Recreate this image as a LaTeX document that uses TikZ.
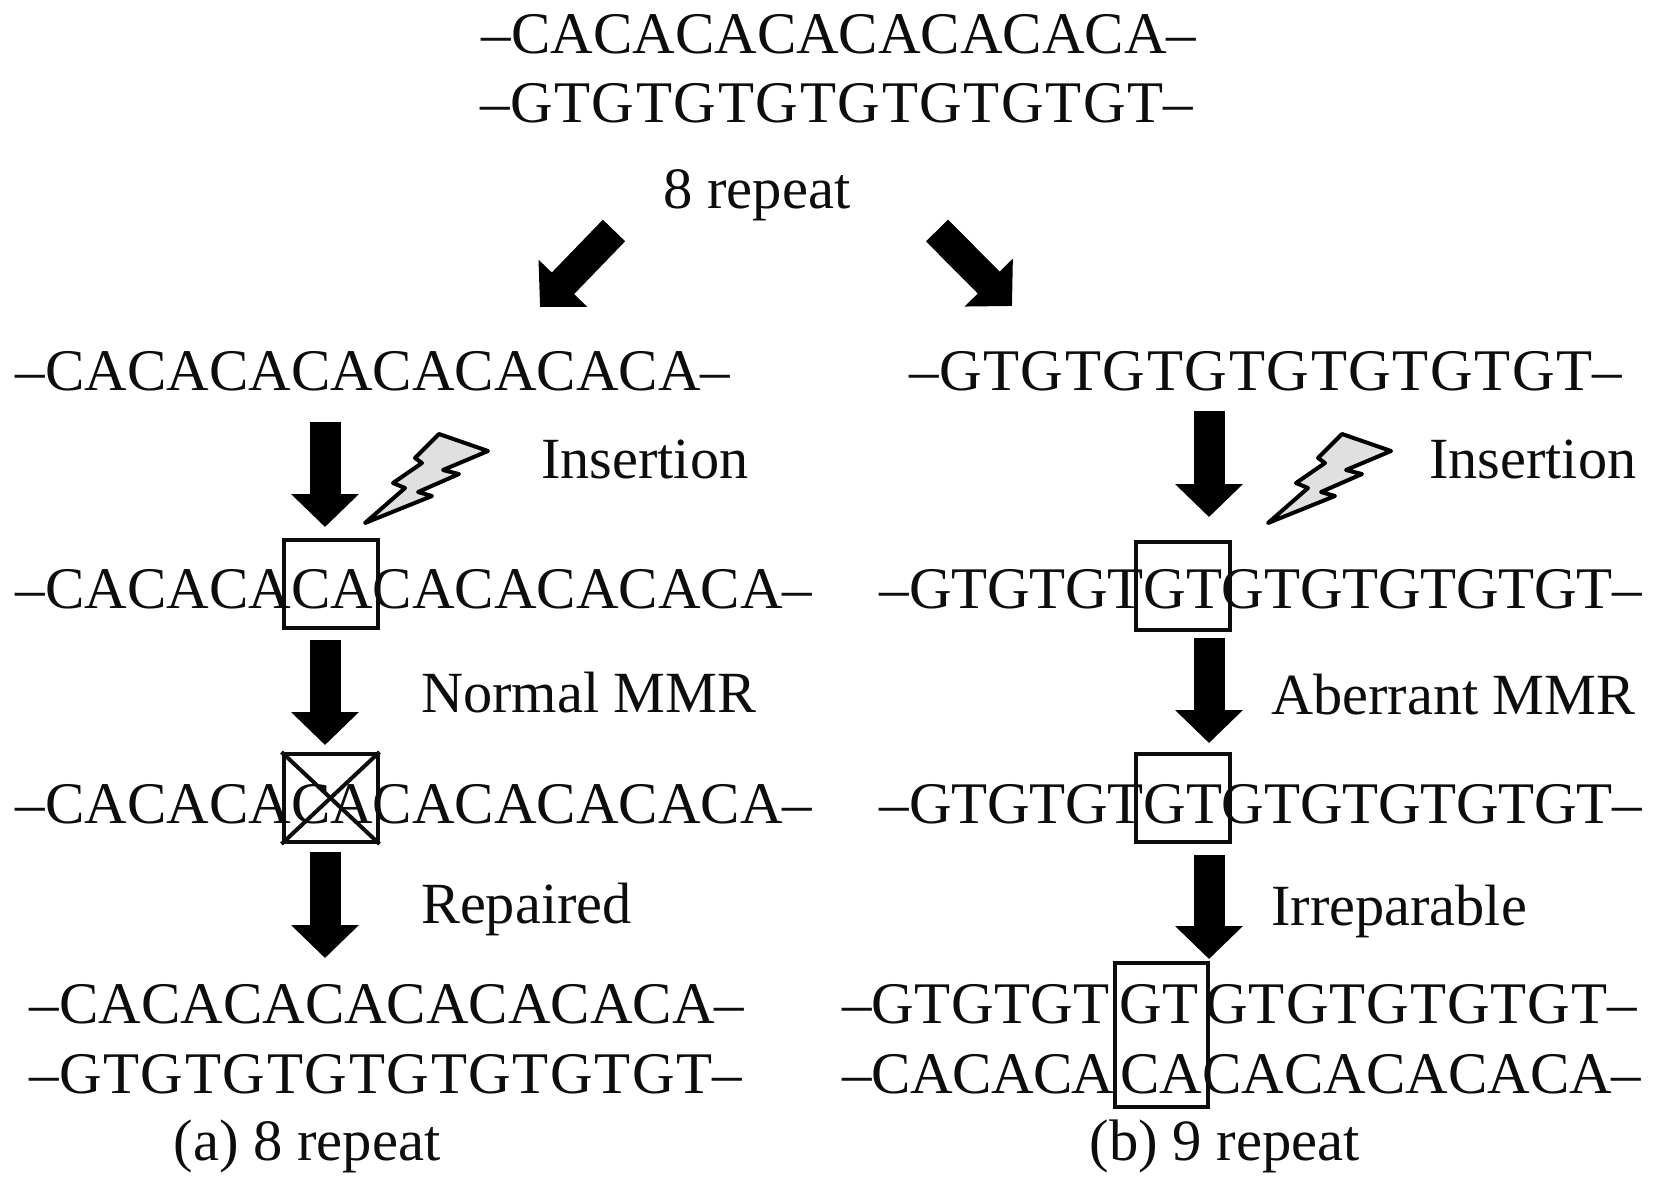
\documentclass[tikz,border=0pt]{standalone}
\usepackage{fontspec}
\setmainfont{Liberation Serif}
\usetikzlibrary{arrows.meta}
\newcommand\lspaced[2]{{\addfontfeature{LetterSpace=#1}#2}}
\tikzset{
  x=1pt,y=-1pt,
  seq/.style={anchor=base,inner sep=0pt,font=\fontsize{59}{59}\selectfont,text=black!95},
  seqw/.style={anchor=base west,inner sep=0pt,font=\fontsize{59}{59}\selectfont,text=black!95},
  lab/.style={anchor=base west,inner sep=0pt,font=\fontsize{58.3}{59}\selectfont,text=black!95},
  capt/.style={anchor=base,inner sep=0pt,font=\fontsize{58.6}{59}\selectfont,text=black!95},
  markbox/.style={draw=black!95,line width=4pt,fill=none,inner sep=0pt},
  blockarrow/.style={line width=31pt,black,-{Triangle[length=33pt,width=66pt]}},
  bolt/.style={draw=black,line width=4pt,fill=black!12,line join=round},
}
\begin{document}
\begin{tikzpicture}
\useasboundingbox (0,0) rectangle (1654,1187);
% top
\node[seq] (t1) at (839,53) {–CACACACACACACACA–};
\node[seq] (t2) at (837,122) {–\lspaced{2.8}{GTGTGTGTGTGTGTGT}–};
\node[capt] (rep) at (757,208) {8 repeat};
% left column
\node[seq] (l1) at (373,390) {–CACACACACACACACA–};
\node[seq] (l2) at (414,608) {–CACACACACACACACACA–};
\node[seq] (l3) at (414,823) {–CACACACACACACACACA–};
\node[seq] (l4) at (387,1023) {–CACACACACACACACA–};
\node[seq] (l5) at (386,1093) {–\lspaced{2.8}{GTGTGTGTGTGTGTGT}–};
\node[capt] (lc) at (307,1160) {(a) 8 repeat};
% right column
\node[seq] (r1) at (1266,390) {–\lspaced{2.8}{GTGTGTGTGTGTGTGT}–};
\node[seq] (r2) at (1261,608) {–\lspaced{-0.4}{GTGTGTGTGTGTGTGTGT}–};
\node[seq] (r3) at (1261,823) {–\lspaced{-0.4}{GTGTGTGTGTGTGTGTGT}–};
\node[seqw] (r4) at (842,1023) {–\lspaced{0.7}{GTGTGT}\hspace{10pt}GT\hspace{7pt}\lspaced{1.7}{GTGTGTGTGT}–};
\node[seqw] (r5) at (842,1093) {–\lspaced{-1.1}{CACACA}\hspace{6pt}CACACACACACA–};
\node[capt] (rc) at (1225,1160) {(b) 9 repeat};
% labels
\node[lab] (li) at (541,478) {Insertion};
\node[lab] (ln) at (421,712) {Normal MMR};
\node[lab] (lr) at (421,923) {Repaired};
\node[lab] (ri) at (1429,478) {Insertion};
\node[lab] (ra) at (1271,714) {Aberrant MMR};
\node[lab] (rr) at (1271,925) {Irreparable};
% boxes
\node[markbox,minimum width=94pt,minimum height=88pt] (b1) at (330.5,584) {};
\node[markbox,minimum width=94pt,minimum height=88pt] (b2) at (330.5,798) {};
\draw[line width=4pt,black!95] (b2.north west) -- (b2.south east) (b2.north east) -- (b2.south west);
\node[markbox,minimum width=94pt,minimum height=88pt] (b3) at (1183,586) {};
\node[markbox,minimum width=94pt,minimum height=88pt] (b4) at (1183,798) {};
\node[markbox,minimum width=93pt,minimum height=144pt] (b5) at (1161,1035) {};
% arrow ends
\coordinate (a0s) at (614,230.5); \coordinate (a0e) at (540,307);
\coordinate (a1s) at (937,230.5); \coordinate (a1e) at (1012,306);
\coordinate (a2s) at (325,422); \coordinate (a2e) at (325,527);
\coordinate (a3s) at (325,640); \coordinate (a3e) at (325,745);
\coordinate (a4s) at (325,852); \coordinate (a4e) at (325,958);
\coordinate (a5s) at (1209,411); \coordinate (a5e) at (1209,517);
\coordinate (a6s) at (1209,638); \coordinate (a6e) at (1209,743);
\coordinate (a7s) at (1209,855); \coordinate (a7e) at (1209,959);
\foreach \i in {0,...,7} \draw[blockarrow] (a\i s) -- (a\i e);
% bolts
\draw[bolt] (365,523) -- (405,488) -- (393,483) -- (422,463) -- (415,458) -- (439,434) -- (488,451) -- (443,470) -- (459,474) -- (418,492) -- (432,496) -- cycle;
\draw[bolt] (1268,523) -- (1308,488) -- (1296,483) -- (1325,463) -- (1318,458) -- (1342,434) -- (1391,451) -- (1346,470) -- (1362,474) -- (1321,492) -- (1335,496) -- cycle;
\end{tikzpicture}
\end{document}
